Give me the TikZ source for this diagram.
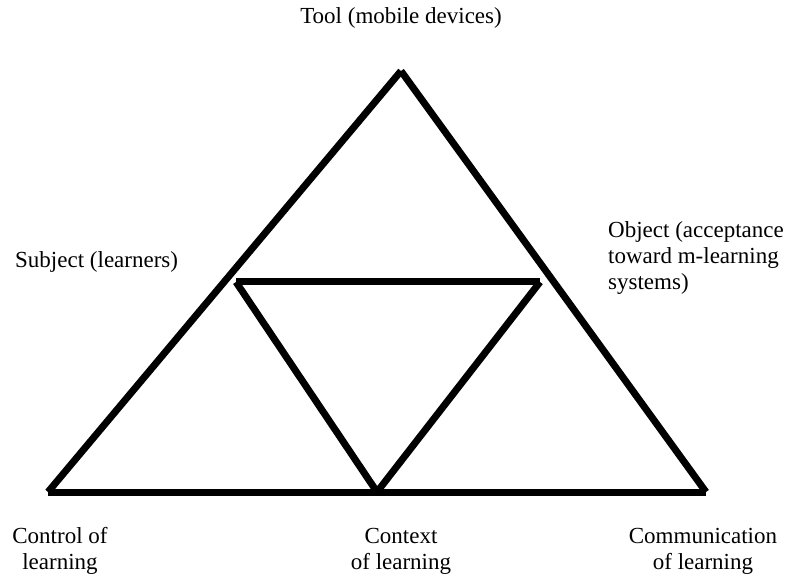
\documentclass[tikz,border=0pt]{standalone}
\usepackage{fontspec}
\setmainfont{Liberation Serif}
\begin{document}
\begin{tikzpicture}[x=1pt,y=-1pt,
  edge/.style={line width=7pt,line cap=butt},
  lbl/.style={font=\fontsize{23}{26}\selectfont,inner sep=0pt}]
\useasboundingbox (0,0) rectangle (790,577);
% outer triangle
\coordinate (apex) at (401,71);
\coordinate (bl) at (48,492);
\coordinate (br) at (706,492);
\coordinate (bm) at (377,492);
% inner triangle
\coordinate (il) at (236,282);
\coordinate (ir) at (540,282);
\draw[edge] (apex) -- (bl);
\draw[edge] (apex) -- (br);
\draw[edge] (bl) -- (br);
\draw[edge] (il) -- (ir);
\draw[edge] (il) -- (bm);
\draw[edge] (ir) -- (bm);
% labels
\node[lbl] (tool) at (401,18) {Tool (mobile devices)};
\node[lbl,anchor=west] (subj) at (15,262) {Subject (learners)};
\node[lbl,anchor=west,align=left] (obj) at (608,258) {Object (acceptance\\toward m-learning\\systems)};
\node[lbl,align=center] (ctrl) at (60,551) {Control of\\learning};
\node[lbl,align=center] (ctx) at (401,551) {Context\\of learning};
\node[lbl,align=center] (comm) at (703,551) {Communication\\of learning};
\end{tikzpicture}
\end{document}
